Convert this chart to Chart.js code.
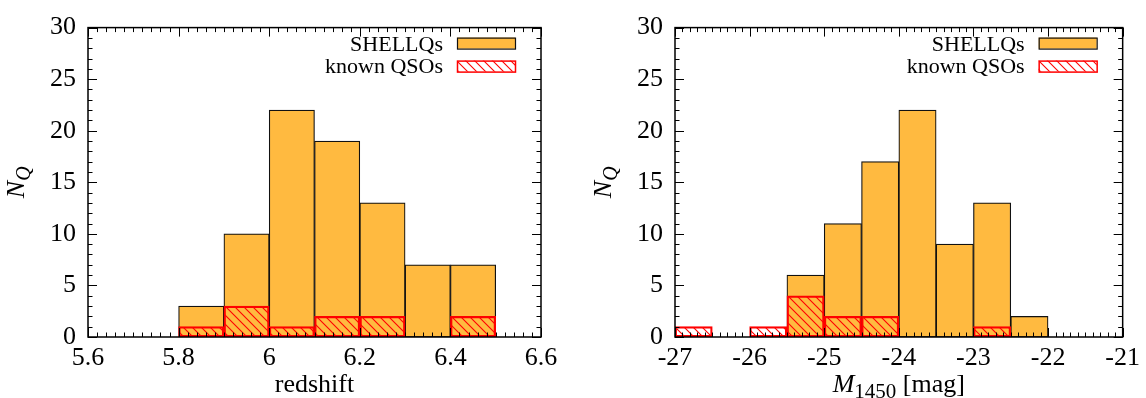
<!DOCTYPE html>
<html>
<head>
<meta charset="utf-8">
<script src="https://cdn.jsdelivr.net/npm/chart.js@4.4.0/dist/chart.umd.min.js"></script>
<style>
html, body { margin: 0; padding: 0; background: #fff; }
#wrap { position: relative; width: 1146px; height: 398px; }
.panel { position: absolute; top: 0; width: 573px; height: 398px; }
</style>
</head>
<body>
<div id="wrap">
  <div class="panel" style="left:0"><canvas id="zChart"></canvas></div>
  <div class="panel" style="left:573px"><canvas id="mChart"></canvas></div>
</div>
<script>
// Histograma en redshift (borde inferior de cada bin, ancho 0.1)
const zBins = [5.8, 5.9, 6.0, 6.1, 6.2, 6.3, 6.4];
const zShellqs = [3, 10, 22, 19, 13, 7, 7];
const zKnown = [1, 3, 1, 2, 2, 0, 2];
const zTicks = [5.6, 5.8, 6.0, 6.2, 6.4, 6.6];

// Histograma en M1450 (borde inferior de cada bin, ancho 0.5)
const magBins = [-27, -26.5, -26, -25.5, -25, -24.5, -24, -23.5, -23, -22.5];
const magShellqs = [0, 0, 0, 6, 11, 17, 22, 9, 13, 2];
const magKnown = [1, 0, 1, 4, 2, 2, 0, 0, 1, 0];
const magTicks = [-27, -26, -25, -24, -23, -22, -21];

const nTicks = [0, 5, 10, 15, 20, 25, 30];
const seriesNames = ["SHELLQs", "known QSOs"];

const ORANGE = "#ffba40";
const FONT = "'Liberation Serif', 'Times New Roman', serif";

function hatch(bg) {
    const c = document.createElement("canvas");
    c.width = 9;
    c.height = 9;
    const g = c.getContext("2d");
    if (bg) {
        g.fillStyle = bg;
        g.fillRect(0, 0, 9, 9);
    }
    g.strokeStyle = "#ff0000";
    g.lineWidth = 1.1;
    g.beginPath();
    g.moveTo(-1, -1); g.lineTo(10, 10);
    g.moveTo(-1, 8); g.lineTo(1, 10);
    g.moveTo(8, -1); g.lineTo(10, 1);
    g.stroke();
    return document.createElement("canvas").getContext("2d").createPattern(c, "repeat");
}
const hatchBars = hatch(null);
const hatchLegend = hatch("#ffffff");

function toPoints(bins, width, values) {
    return bins.map((b, i) => ({ x: b + width / 2, y: values[i] || null }));
}

// marco, ticks menores, leyenda y titulos de ejes
function decorPlugin(cfg) {
    return {
        id: "decor",
        afterDraw(chart) {
            const { ctx, chartArea: a, scales } = chart;
            const x = scales.x, y = scales.y;
            ctx.save();
            ctx.strokeStyle = "#000";
            ctx.lineWidth = 1;
            ctx.beginPath();
            const nx = Math.round((x.max - x.min) / cfg.xMinor);
            for (let i = 0; i <= nx; i++) {
                const px = Math.round(x.getPixelForValue(x.min + i * cfg.xMinor)) + 0.5;
                const len = i % cfg.xPer === 0 ? 9 : 4.5;
                ctx.moveTo(px, a.bottom); ctx.lineTo(px, a.bottom - len);
                ctx.moveTo(px, a.top); ctx.lineTo(px, a.top + len);
            }
            const ny = Math.round((y.max - y.min) / 1);
            for (let i = 0; i <= ny; i++) {
                const py = Math.round(y.getPixelForValue(y.min + i)) + 0.5;
                const len = i % 5 === 0 ? 9 : 4.5;
                ctx.moveTo(a.left, py); ctx.lineTo(a.left + len, py);
                ctx.moveTo(a.right, py); ctx.lineTo(a.right - len, py);
            }
            ctx.stroke();
            ctx.lineWidth = 1.5;
            ctx.strokeRect(a.left, a.top, a.width, a.height);

            // leyenda
            const ds = chart.data.datasets;
            ctx.font = "22px " + FONT;
            ctx.fillStyle = "#000";
            ctx.textAlign = "right";
            ctx.textBaseline = "alphabetic";
            const bx = a.right - 84, bw = 58, bh = 11;
            ctx.fillText(ds[0].label, a.right - 98, a.top + 23);
            ctx.fillText(ds[1].label, a.right - 98, a.top + 45);
            ctx.fillStyle = ds[0].backgroundColor;
            ctx.fillRect(bx, a.top + 10, bw, bh);
            ctx.lineWidth = 1.2;
            ctx.strokeStyle = ds[0].borderColor;
            ctx.strokeRect(bx + 0.5, a.top + 10.5, bw, bh);
            ctx.fillStyle = hatchLegend;
            ctx.fillRect(bx, a.top + 33, bw, bh);
            ctx.lineWidth = 1.5;
            ctx.strokeStyle = ds[1].borderColor;
            ctx.strokeRect(bx + 0.5, a.top + 33.5, bw, bh);

            // titulo eje y: N_Q
            ctx.fillStyle = "#000";
            ctx.textAlign = "left";
            ctx.save();
            ctx.translate(a.left - 64, (a.top + a.bottom) / 2);
            ctx.rotate(-Math.PI / 2);
            ctx.font = "italic 26px " + FONT;
            const wN = ctx.measureText("N").width;
            ctx.font = "italic 20px " + FONT;
            const wQ = ctx.measureText("Q").width;
            const x0 = -(wN + wQ) / 2;
            ctx.font = "italic 26px " + FONT;
            ctx.fillText("N", x0, 0);
            ctx.font = "italic 20px " + FONT;
            ctx.fillText("Q", x0 + wN, 6);
            ctx.restore();

            // titulo eje x
            const cx = (a.left + a.right) / 2, base = 392;
            const parts = cfg.xTitle;
            let total = 0;
            parts.forEach(p => { ctx.font = p.font + FONT; p.w = ctx.measureText(p.t).width; total += p.w; });
            let px = cx - total / 2;
            parts.forEach(p => {
                ctx.font = p.font + FONT;
                ctx.fillText(p.t, px, base + (p.dy || 0));
                px += p.w;
            });
            ctx.restore();
        }
    };
}

function makeChart(id, bins, width, shellqs, known, xTicks, cfg) {
    const tickFont = { family: FONT, size: 26 };
    return new Chart(document.getElementById(id), {
        type: "bar",
        data: {
            datasets: [
                {
                    label: seriesNames[0],
                    data: toPoints(bins, width, shellqs),
                    backgroundColor: ORANGE,
                    borderColor: "#111111",
                    borderWidth: 1.2,
                    borderSkipped: false,
                    grouped: false,
                    barPercentage: 1,
                    categoryPercentage: 1,
                    order: 2,
                },
                {
                    label: seriesNames[1],
                    data: toPoints(bins, width, known),
                    backgroundColor: hatchBars,
                    borderColor: "#ff0000",
                    borderWidth: 1.6,
                    borderSkipped: false,
                    grouped: false,
                    barPercentage: 1,
                    categoryPercentage: 1,
                    order: 1,
                },
            ],
        },
        options: {
            responsive: true,
            maintainAspectRatio: false,
            animation: false,
            layout: { padding: { left: 0, right: cfg.padRight, top: 19, bottom: 0 } },
            plugins: { legend: { display: false }, tooltip: { enabled: false } },
            scales: {
                x: {
                    type: "linear",
                    min: xTicks[0],
                    max: xTicks[xTicks.length - 1],
                    offset: false,
                    grid: { display: false, drawTicks: false, offset: false },
                    border: { display: false },
                    afterBuildTicks: (s) => { s.ticks = xTicks.map((v) => ({ value: v })); },
                    afterFit: (s) => { s.height = 61; },
                    ticks: {
                        color: "#000",
                        font: tickFont,
                        padding: 6,
                        maxRotation: 0,
                        autoSkip: false,
                        callback: (v) => String(+Number(v).toFixed(2)),
                    },
                },
                y: {
                    min: nTicks[0],
                    max: nTicks[nTicks.length - 1],
                    grid: { display: false, drawTicks: false },
                    border: { display: false },
                    afterBuildTicks: (s) => { s.ticks = nTicks.map((v) => ({ value: v })); },
                    afterFit: (s) => { s.width = cfg.plotLeft; },
                    ticks: { color: "#000", font: tickFont, padding: 12 },
                },
            },
        },
        plugins: [decorPlugin(cfg)],
    });
}

makeChart("zChart", zBins, 0.1, zShellqs, zKnown, zTicks, {
    plotLeft: 88, padRight: 32, xMinor: 0.02, xPer: 10,
    xTitle: [{ t: "redshift", font: "26px " }],
});
makeChart("mChart", magBins, 0.5, magShellqs, magKnown, magTicks, {
    plotLeft: 102, padRight: 19, xMinor: 0.1, xPer: 10,
    xTitle: [
        { t: "M", font: "italic 26px " },
        { t: "1450", font: "21px ", dy: 6 },
        { t: " [mag]", font: "26px " },
    ],
});
</script>
</body>
</html>
